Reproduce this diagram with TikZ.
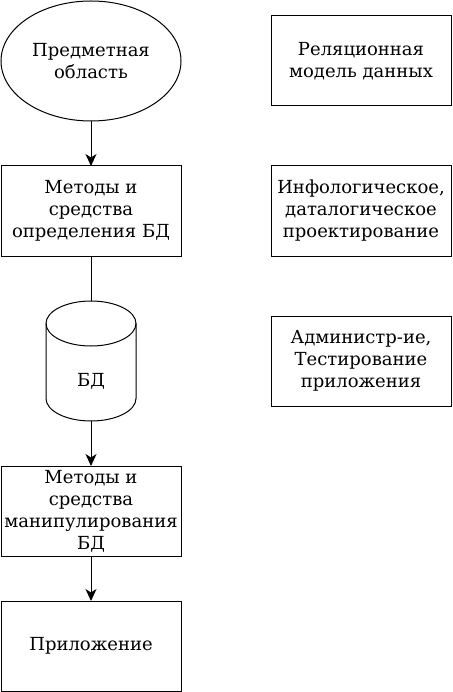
\documentclass[tikz,border=0pt]{standalone}
\usepackage{fontspec}
\setmainfont{DejaVu Serif}
\usetikzlibrary{positioning,shapes.geometric,arrows.meta}

\tikzset{
block/.style={
draw,
line width=1pt,
minimum width=180pt,
minimum height=90pt,
inner sep=0pt,
outer sep=0pt,
align=center
},
flow/.style={
line width=1pt,
-{Stealth[length=12pt,width=11pt,inset=3.5pt]}
}
}

\begin{document}

\begin{tikzpicture}[font=\fontsize{18}{22}\selectfont]

\useasboundingbox (0pt,0pt) rectangle (452pt,-692pt);

%%%%%%%%%%%%%%%%%%%%%%%%%%%%%%%%%%%%%%%%%%%%%%%%%%%%%%
% SUBJECT AREA
%%%%%%%%%%%%%%%%%%%%%%%%%%%%%%%%%%%%%%%%%%%%%%%%%%%%%%

\node[
draw,
ellipse,
line width=1pt,
minimum width=180pt,
minimum height=120pt,
inner sep=0pt,
outer sep=0pt,
align=center
] (area) at (91pt,-61pt)
{Предметная\\область};

%%%%%%%%%%%%%%%%%%%%%%%%%%%%%%%%%%%%%%%%%%%%%%%%%%%%%%
% DEFINITION TOOLS
%%%%%%%%%%%%%%%%%%%%%%%%%%%%%%%%%%%%%%%%%%%%%%%%%%%%%%

\node[block, below=45pt of area]
(define)
{Методы и\\средства\\определения БД};

%%%%%%%%%%%%%%%%%%%%%%%%%%%%%%%%%%%%%%%%%%%%%%%%%%%%%%
% DATABASE
%%%%%%%%%%%%%%%%%%%%%%%%%%%%%%%%%%%%%%%%%%%%%%%%%%%%%%

\node[
minimum width=90pt,
minimum height=120pt,
inner sep=0pt,
outer sep=0pt,
below=45pt of define
] (db) {};

\draw[line width=1pt]
([yshift=-22.5pt]db.north west)
arc[start angle=180,end angle=0,x radius=45pt,y radius=22.5pt]
-- ([yshift=22.5pt]db.south east)
arc[start angle=0,end angle=-180,x radius=45pt,y radius=22.5pt]
-- cycle;
\draw[line width=1pt]
([yshift=-22.5pt]db.north west)
arc[start angle=180,end angle=360,x radius=45pt,y radius=22.5pt];

\node (dblabel) at ([yshift=-20pt]db.center) {БД};

%%%%%%%%%%%%%%%%%%%%%%%%%%%%%%%%%%%%%%%%%%%%%%%%%%%%%%
% MANIPULATION TOOLS
%%%%%%%%%%%%%%%%%%%%%%%%%%%%%%%%%%%%%%%%%%%%%%%%%%%%%%

\node[block, below=45pt of db]
(manip)
{Методы и\\средства\\манипулирования\\БД};

%%%%%%%%%%%%%%%%%%%%%%%%%%%%%%%%%%%%%%%%%%%%%%%%%%%%%%
% APPLICATION
%%%%%%%%%%%%%%%%%%%%%%%%%%%%%%%%%%%%%%%%%%%%%%%%%%%%%%

\node[block, below=45pt of manip]
(app)
{Приложение};

%%%%%%%%%%%%%%%%%%%%%%%%%%%%%%%%%%%%%%%%%%%%%%%%%%%%%%
% RIGHT COLUMN
%%%%%%%%%%%%%%%%%%%%%%%%%%%%%%%%%%%%%%%%%%%%%%%%%%%%%%

\node[block]
(relmodel)
at (361pt,-61pt)
{Реляционная\\модель данных};

\node[block, right=90pt of define]
(design)
{Инфологическое,\\даталогическое\\проектирование};

\node[block, below=60pt of design]
(admin)
{Администр-ие,\\Тестирование\\приложения};

%%%%%%%%%%%%%%%%%%%%%%%%%%%%%%%%%%%%%%%%%%%%%%%%%%%%%%
% CONNECTORS
%%%%%%%%%%%%%%%%%%%%%%%%%%%%%%%%%%%%%%%%%%%%%%%%%%%%%%

\draw[flow] (area) -- (define);
\draw[line width=1pt] (define) -- (db.north);
\draw[flow] (db.south) -- (manip);
\draw[flow] (manip) -- (app);

\end{tikzpicture}

\end{document}
